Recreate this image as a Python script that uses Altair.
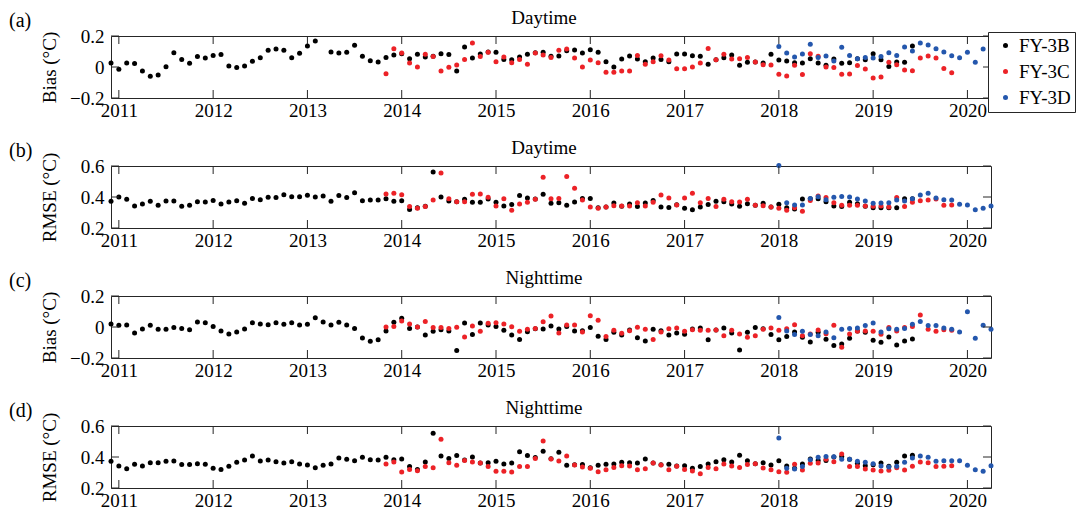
import altair as alt
import pandas as pd

FONT = "Liberation Serif"
AX = "#262626"

SENSORS = ["FY-3B", "FY-3C", "FY-3D"]
COLORS = ["#000000", "#ec2227", "#2457ad"]
YEARS = list(range(2011, 2021))
BIAS_TICKS = [-0.2, 0.0, 0.2]
RMSE_TICKS = [0.2, 0.4, 0.6]
PANEL_LABELS = ["(a)", "(b)", "(c)", "(d)"]
PANEL_TITLES = ["Daytime", "Daytime", "Nighttime", "Nighttime"]
Y_TITLES = ["Bias (°C)", "RMSE (°C)", "Bias (°C)", "RMSE (°C)"]

# first month (year, month) of each monthly series
START = {"FY-3B": (2010, 12), "FY-3C": (2013, 11), "FY-3D": (2018, 1)}

# ---- (a) Daytime bias ----
day_bias_3b = [0.026,
    -0.015, 0.026, 0.022, -0.026, -0.06, -0.052, 0.002, 0.092, 0.049, 0.024, 0.067, 0.058,
    0.075, 0.08, 0.006, -0.004, 0.006, 0.037, 0.06, 0.108, 0.116, 0.108, 0.06, 0.088,
    0.135, 0.168, None, 0.097, 0.09, 0.095, 0.14, 0.069, 0.041, 0.032, 0.062, 0.078,
    0.085, 0.054, 0.082, 0.065, 0.07, 0.086, 0.08, -0.026, 0.129, 0.058, 0.084, 0.097,
    0.095, 0.049, 0.047, 0.065, 0.082, 0.092, 0.095, 0.069, 0.071, 0.105, 0.11, 0.09,
    0.112, 0.095, 0.034, 0.0, 0.052, 0.071, 0.052, 0.034, 0.058, 0.049, 0.034, 0.084,
    0.084, 0.073, 0.069, 0.017, 0.047, 0.06, 0.077, 0.011, 0.03, 0.032, 0.026, 0.082,
    0.045, 0.039, 0.028, 0.026, 0.054, 0.026, 0.011, 0.052, 0.024, 0.028, 0.054, 0.047,
    0.086, 0.047, 0.004, 0.032, 0.03, 0.135]
day_bias_3c = [-0.043, 0.118,
    0.09, 0.026, 0.0, 0.082, 0.067, -0.026, -0.002, 0.013, 0.049, 0.155, 0.067, 0.095,
    0.034, 0.065, 0.028, 0.049, 0.017, 0.09, 0.077, 0.062, 0.108, 0.116, 0.058, 0.0,
    0.045, 0.028, -0.034, -0.034, -0.026, -0.026, 0.075, 0.017, 0.034, 0.073, 0.045, -0.011,
    -0.011, 0.0, 0.026, 0.12, 0.047, 0.082, 0.052, 0.054, 0.062, 0.032, 0.015, 0.013,
    -0.047, -0.058, 0.011, -0.049, 0.086, 0.069, 0.0, -0.004, -0.047, -0.045, 0.009, -0.013,
    -0.071, -0.064, 0.03, 0.015, -0.019, -0.024, 0.058, 0.071, 0.058, -0.009, -0.037]
day_bias_3d = [
    0.133, 0.09, 0.065, 0.084, 0.146, 0.062, 0.071, 0.039, 0.127, 0.075, 0.054, 0.062,
    0.058, 0.067, 0.092, 0.075, 0.129, 0.103, 0.155, 0.142, 0.118, 0.097, 0.073, 0.06,
    0.095, 0.03, 0.116, 0.073]

# ---- (b) Daytime RMSE ----
day_rmse_3b = [0.372,
    0.4, 0.385, 0.342, 0.355, 0.372, 0.346, 0.374, 0.374, 0.34, 0.346, 0.37, 0.368,
    0.378, 0.355, 0.368, 0.376, 0.359, 0.391, 0.383, 0.398, 0.396, 0.415, 0.402, 0.402,
    0.411, 0.4, 0.406, 0.372, 0.409, 0.396, 0.428, 0.376, 0.381, 0.381, 0.389, 0.372,
    0.376, 0.32, 0.33, 0.34, 0.561, 0.4, 0.374, 0.37, 0.385, 0.366, 0.366, 0.387,
    0.366, 0.342, 0.351, 0.409, 0.394, 0.387, 0.417, 0.359, 0.363, 0.346, 0.368, 0.391,
    0.391, 0.33, 0.335, 0.361, 0.34, 0.355, 0.338, 0.361, 0.378, 0.335, 0.333, 0.35,
    0.327, 0.318, 0.335, 0.351, 0.372, 0.37, 0.355, 0.34, 0.357, 0.346, 0.359, 0.335,
    0.353, 0.331, 0.323, 0.387, 0.389, 0.389, 0.37, 0.342, 0.338, 0.366, 0.357, 0.34,
    0.331, 0.331, 0.331, 0.331, 0.389, 0.389]
day_rmse_3c = [0.419, 0.424,
    0.415, 0.338, 0.327, 0.338, 0.381, 0.555, 0.389, 0.37, 0.37, 0.417, 0.419, 0.398,
    0.342, 0.389, 0.314, 0.355, 0.366, 0.385, 0.527, 0.389, 0.391, 0.533, 0.456, 0.381,
    0.335, 0.327, 0.335, 0.344, 0.342, 0.342, 0.363, 0.342, 0.366, 0.413, 0.394, 0.348,
    0.394, 0.424, 0.363, 0.391, 0.338, 0.385, 0.37, 0.368, 0.385, 0.346, 0.344, 0.335,
    0.327, 0.314, 0.33, 0.308, 0.378, 0.406, 0.396, 0.363, 0.346, 0.346, 0.346, 0.342,
    0.34, 0.342, 0.335, 0.396, 0.338, 0.366, 0.376, 0.381, 0.387, 0.346, 0.348]
day_rmse_3d = [
    0.604, 0.363, 0.348, 0.348, 0.391, 0.402, 0.383, 0.398, 0.404, 0.4, 0.387, 0.374,
    0.359, 0.361, 0.363, 0.381, 0.374, 0.389, 0.413, 0.424, 0.394, 0.383, 0.381, 0.353,
    0.348, 0.318, 0.327, 0.342]

# ---- (c) Nighttime bias ----
night_bias_3b = [0.019,
    0.011, 0.013, -0.039, -0.013, 0.011, -0.015, -0.015, -0.004, -0.009, -0.017, 0.032, 0.028,
    0.004, -0.026, -0.045, -0.032, -0.013, 0.028, 0.019, 0.015, 0.028, 0.017, 0.028, 0.013,
    0.017, 0.06, 0.032, 0.013, 0.03, 0.013, -0.009, -0.071, -0.092, -0.083, -0.026, 0.03,
    0.056, -0.009, 0.0, -0.051, -0.028, -0.017, -0.026, -0.152, 0.026, -0.049, 0.026, 0.013,
    0.004, -0.021, -0.051, -0.081, -0.03, -0.011, -0.013, 0.006, -0.013, 0.004, -0.026, -0.024,
    -0.004, -0.06, -0.081, -0.034, -0.051, -0.02, -0.069, -0.09, -0.015, -0.024, -0.051, -0.039,
    -0.047, -0.013, -0.006, -0.083, -0.02, -0.006, -0.039, -0.148, -0.034, -0.004, -0.011, -0.049,
    -0.083, -0.062, -0.032, -0.066, -0.096, -0.034, -0.079, -0.12, -0.109, -0.073, -0.026, -0.034,
    -0.086, -0.098, -0.064, -0.116, -0.09, -0.077]
night_bias_3c = [0.0, 0.004,
    0.039, 0.019, 0.0, 0.036, -0.004, -0.004, -0.009, -0.002, -0.064, 0.006, -0.028, 0.024,
    0.028, 0.019, 0.002, -0.028, -0.015, -0.01, 0.034, 0.071, -0.039, 0.013, 0.013, -0.032,
    0.073, 0.043, -0.062, -0.021, -0.041, -0.024, -0.002, -0.015, -0.081, -0.032, -0.011, -0.006,
    -0.028, -0.017, -0.021, -0.021, -0.019, -0.056, -0.021, -0.045, -0.066, -0.056, -0.015, -0.006,
    -0.021, -0.011, 0.015, -0.056, -0.045, -0.019, -0.043, 0.011, -0.131, -0.045, -0.028, -0.026,
    -0.028, -0.047, -0.004, -0.026, -0.004, 0.004, 0.077, -0.015, -0.028, -0.017, -0.021]
night_bias_3d = [
    0.062, -0.026, -0.049, -0.028, -0.049, -0.056, -0.032, -0.069, -0.015, -0.009, -0.006, 0.009,
    0.026, -0.032, -0.011, -0.015, -0.009, 0.017, 0.036, 0.009, 0.009, -0.006, -0.015, -0.032,
    0.098, -0.073, 0.011, -0.015]

# ---- (d) Nighttime RMSE ----
night_rmse_3b = [0.372,
    0.342, 0.325, 0.353, 0.342, 0.363, 0.363, 0.372, 0.374, 0.351, 0.351, 0.357, 0.353,
    0.327, 0.32, 0.34, 0.366, 0.381, 0.406, 0.374, 0.381, 0.37, 0.361, 0.37, 0.355,
    0.348, 0.331, 0.346, 0.355, 0.394, 0.385, 0.376, 0.398, 0.383, 0.381, 0.398, 0.383,
    0.387, 0.338, 0.32, 0.368, 0.553, 0.406, 0.391, 0.409, 0.38, 0.4, 0.362, 0.363,
    0.372, 0.355, 0.361, 0.434, 0.409, 0.396, 0.437, 0.389, 0.43, 0.346, 0.35, 0.351,
    0.33, 0.346, 0.353, 0.355, 0.366, 0.363, 0.361, 0.387, 0.362, 0.35, 0.353, 0.342,
    0.344, 0.327, 0.338, 0.355, 0.37, 0.383, 0.368, 0.411, 0.376, 0.357, 0.363, 0.348,
    0.376, 0.342, 0.328, 0.355, 0.387, 0.378, 0.378, 0.4, 0.404, 0.385, 0.36, 0.344,
    0.35, 0.361, 0.34, 0.366, 0.406, 0.411]
night_rmse_3c = [0.355, 0.368,
    0.303, 0.32, 0.312, 0.338, 0.331, 0.514, 0.363, 0.346, 0.378, 0.368, 0.361, 0.338,
    0.308, 0.308, 0.303, 0.338, 0.338, 0.39, 0.503, 0.387, 0.374, 0.406, 0.348, 0.335,
    0.327, 0.305, 0.318, 0.333, 0.344, 0.342, 0.318, 0.325, 0.361, 0.348, 0.318, 0.34,
    0.32, 0.31, 0.292, 0.333, 0.325, 0.355, 0.342, 0.333, 0.351, 0.357, 0.329, 0.318,
    0.305, 0.301, 0.353, 0.316, 0.359, 0.361, 0.385, 0.37, 0.419, 0.338, 0.338, 0.323,
    0.316, 0.31, 0.314, 0.331, 0.316, 0.34, 0.368, 0.363, 0.338, 0.34, 0.344]
night_rmse_3d = [
    0.523, 0.327, 0.323, 0.338, 0.383, 0.398, 0.404, 0.402, 0.385, 0.385, 0.372, 0.366,
    0.357, 0.342, 0.335, 0.34, 0.366, 0.394, 0.406, 0.398, 0.372, 0.376, 0.376, 0.376,
    0.346, 0.318, 0.308, 0.344]

PANEL_DATA = [
    (day_bias_3b, day_bias_3c, day_bias_3d),
    (day_rmse_3b, day_rmse_3c, day_rmse_3d),
    (night_bias_3b, night_bias_3c, night_bias_3d),
    (night_rmse_3b, night_rmse_3c, night_rmse_3d),
]


def build_frame(series):
    rows = []
    for s_idx, (name, vals) in enumerate(zip(SENSORS, series)):
        y0, m0 = START[name]
        for i, v in enumerate(vals):
            if v is None:
                continue
            rows.append({"t": y0 + (m0 - 1 + i) / 12.0, "v": v,
                         "sensor": name, "o": s_idx})
    return pd.DataFrame(rows)


W, H = 880, 62
XDOM = [2010 + 11 / 12, 2020 + 3 / 12]
TICK = 8
FS = 19

xscale = alt.Scale(domain=XDOM, nice=False, zero=False)
xaxis = alt.Axis(values=YEARS, format="d", title=None, ticks=False, domain=False,
                 grid=False, labelFont=FONT, labelFontSize=FS, labelPadding=3,
                 labelColor="black", labelFlush=False)

legend_a = alt.Legend(orient="none", legendX=877, legendY=-4, title=None,
                      labelFont=FONT, labelFontSize=FS, labelColor="black",
                      strokeColor=AX, fillColor="white", padding=4, rowPadding=6,
                      symbolSize=25, symbolType="circle", symbolOffset=4,
                      labelOffset=4, symbolStrokeWidth=0)


def panel(idx):
    df = build_frame(PANEL_DATA[idx])
    is_bias = idx in (0, 2)
    yt = BIAS_TICKS if is_bias else RMSE_TICKS
    ydom = [yt[0], yt[-1]]
    yscale = alt.Scale(domain=ydom, nice=False, zero=False)
    yaxis = alt.Axis(values=yt, format="~g", title=Y_TITLES[idx], ticks=False,
                     domain=False, grid=False, labelFont=FONT, labelFontSize=FS,
                     labelPadding=7, labelColor="black", labelFlush=False,
                     titleFont=FONT, titleFontSize=FS, titleFontWeight="normal",
                     titleColor="black", titleX=-62, titleY=H / 2, titleAngle=270,
                     titleAlign="center", titleBaseline="middle")
    color = alt.Color("sensor:N", scale=alt.Scale(domain=SENSORS, range=COLORS),
                      legend=legend_a if idx == 0 else None)
    pts = alt.Chart(df).mark_circle(size=25, opacity=1).encode(
        x=alt.X("t:Q", scale=xscale, axis=xaxis),
        y=alt.Y("v:Q", scale=yscale, axis=yaxis),
        color=color,
        order=alt.Order("o:Q"),
    )
    xt = pd.DataFrame({"yr": YEARS})
    yv = pd.DataFrame({"yv": yt})
    rx_top = alt.Chart(xt).mark_rule(color=AX, strokeWidth=1).encode(
        x=alt.X("yr:Q", scale=xscale, axis=xaxis), y=alt.value(0), y2=alt.value(TICK))
    rx_bot = alt.Chart(xt).mark_rule(color=AX, strokeWidth=1).encode(
        x=alt.X("yr:Q", scale=xscale, axis=xaxis), y=alt.value(H), y2=alt.value(H - TICK))
    ry_l = alt.Chart(yv).mark_rule(color=AX, strokeWidth=1).encode(
        y=alt.Y("yv:Q", scale=yscale, axis=yaxis), x=alt.value(0), x2=alt.value(TICK))
    ry_r = alt.Chart(yv).mark_rule(color=AX, strokeWidth=1).encode(
        y=alt.Y("yv:Q", scale=yscale, axis=yaxis), x=alt.value(W), x2=alt.value(W - TICK))
    lab = alt.Chart(pd.DataFrame({"s": [PANEL_LABELS[idx]]})).mark_text(
        font=FONT, fontSize=20, align="left", baseline="alphabetic", color="black"
    ).encode(text="s:N", x=alt.value(-102), y=alt.value(-9))
    ttl = alt.Chart(pd.DataFrame({"s": [PANEL_TITLES[idx]]})).mark_text(
        font=FONT, fontSize=FS, align="center", baseline="alphabetic", color="black"
    ).encode(text="s:N", x=alt.value(433), y=alt.value(-12))
    return alt.layer(pts, rx_top, rx_bot, ry_l, ry_r, lab, ttl).properties(width=W, height=H)


chart = alt.vconcat(*[panel(i) for i in range(4)], spacing=68, bounds="flush").resolve_legend(
    color="independent"
).configure_view(stroke=AX, strokeWidth=1).properties(
    padding={"left": 0, "top": 0, "right": 0, "bottom": 0}, background="white")

chart.save("out.html", embed_options={"renderer": "svg", "actions": False})
